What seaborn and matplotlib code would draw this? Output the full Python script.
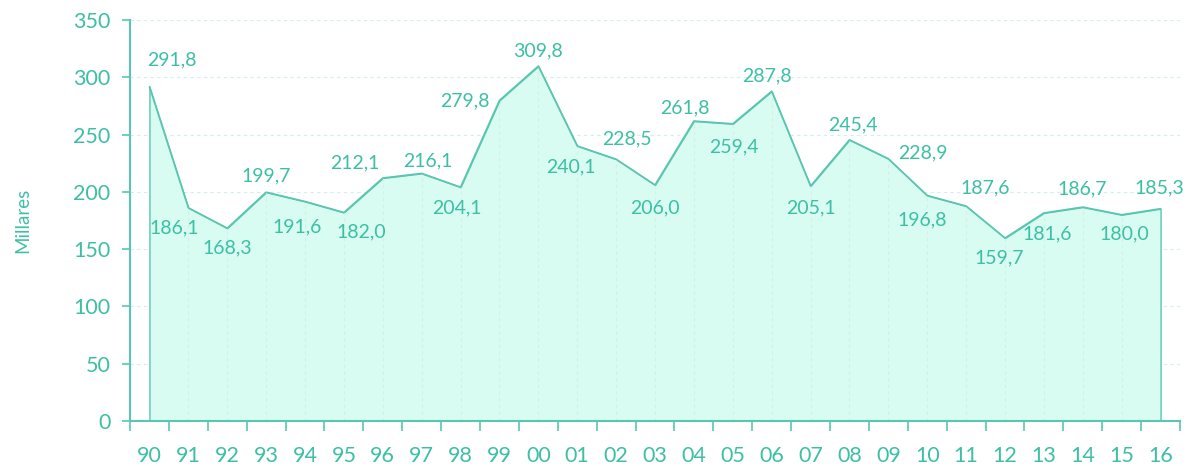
import matplotlib
matplotlib.use("Agg")
import numpy as np
import pandas as pd
import matplotlib.pyplot as plt
import seaborn as sns

# datos
years = ["90", "91", "92", "93", "94", "95", "96", "97", "98", "99", "00", "01", "02", "03",
         "04", "05", "06", "07", "08", "09", "10", "11", "12", "13", "14", "15", "16"]
values = [291.8, 186.1, 168.3, 199.7, 191.6, 182.0, 212.1, 216.1, 204.1, 279.8, 309.8, 240.1,
          228.5, 206.0, 261.8, 259.4, 287.8, 205.1, 245.4, 228.9, 196.8, 187.6, 159.7, 181.6,
          186.7, 180.0, 185.3]
y_ticks = [0, 50, 100, 150, 200, 250, 300, 350]

# desplazamiento de cada etiqueta (pixeles, x derecha / y arriba)
label_offsets = [(22, 27), (-14, -20), (0, -20), (0, 16), (-8, -25), (17, -19), (-28, 15),
                 (6, 13), (-4, -21), (-35, 0), (0, 15), (-6, -21), (11, 20), (0, -23),
                 (-9, 13), (1, -23), (-5, 15), (0, -22), (3, 15), (35, 6), (-5, -24),
                 (19, 18), (-6, -20), (3, -21), (-1, 18), (3, -19), (-1, 21)]

TEXT = "#3dbfa6"
LINE = "#5ac6b1"
FILL = "#d8fcf1"
GRID = "#d3efe8"

sns.set_style("white")
plt.rcParams['font.family'] = ['Lato', 'DejaVu Sans']

df = pd.DataFrame({"x": np.arange(len(years)), "valor": values})

fig = plt.figure(figsize=(11.93, 4.66), dpi=100)
ax = fig.add_axes([130 / 1193, 45 / 466, 1050 / 1193, 401 / 466])

ax.fill_between(df["x"], 0, df["valor"], facecolor=FILL, edgecolor=LINE, linewidth=1, zorder=2)
ax.vlines(df["x"][1:-1], 0, df["valor"][1:-1], colors=GRID, linestyles=(0, (3, 3)), linewidth=0.8, zorder=2.5)
sns.lineplot(data=df, x="x", y="valor", color=LINE, linewidth=1.2, ax=ax, zorder=3)

for xi, v, (dx, dy) in zip(df["x"], values, label_offsets):
    ax.annotate(f"{v:.1f}".replace(".", ","), (xi, v), xytext=(dx * 0.72, dy * 0.72),
                textcoords="offset points", ha="center", va="center",
                fontsize=14, color=TEXT, zorder=4)

ax.set_xlim(-0.5, len(years) - 0.5)
ax.set_ylim(0, 350)
ax.set_yticks(y_ticks)
for yt in y_ticks[1:]:
    ax.axhline(yt, color=GRID, linestyle=(0, (3, 3)), linewidth=0.8, zorder=1)

ax.set_xticks(np.arange(len(years) + 1) - 0.5)
ax.set_xticklabels([])
ax.set_xticks(np.arange(len(years)), minor=True)
ax.set_xticklabels(years, minor=True)
ax.tick_params(axis="x", which="major", direction="out", length=7, width=1.2, color=LINE, bottom=True)
ax.tick_params(axis="x", which="minor", length=0, pad=18, labelsize=15.5, labelcolor=TEXT)
ax.tick_params(axis="y", direction="out", length=6, width=1.2, color=LINE, left=True,
               labelsize=15.5, labelcolor=TEXT, pad=8)

for side in ["top", "right"]:
    ax.spines[side].set_visible(False)
for side in ["left", "bottom"]:
    ax.spines[side].set_color(LINE)
    ax.spines[side].set_linewidth(1.5)

ax.set_xlabel("")
ax.set_ylabel("Millares", fontsize=13.5, color=TEXT, labelpad=30)

plt.savefig("out.png", dpi=100)
